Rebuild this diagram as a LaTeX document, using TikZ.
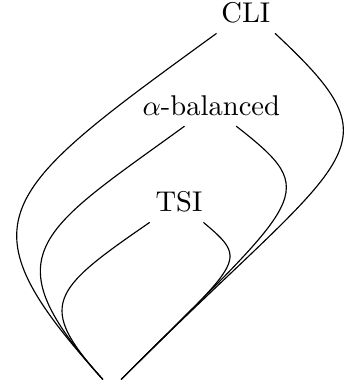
\documentclass[tikz,border=0pt]{standalone}
\begin{document}
\begin{tikzpicture}[x=0.35pt,y=0.35pt,
  lbl/.style={inner sep=3.333pt},
  link/.style={line width=0.4pt}]
\useasboundingbox (0,0) rectangle (351,385);
\node[lbl] (CLI) at (245.8,372.1) {CLI};
\node[lbl] (alpha) at (211.3,279) {$\alpha$-balanced};
\node[lbl] (TSI) at (179,183.1) {TSI};
\node[lbl] (bot) at (112,-4.6) {};
\draw[link] (CLI.215) .. controls +(216:275) and +(132:215) .. (bot.132);
\draw[link] (CLI.-35) .. controls +(-43:175) and +(45:325) .. (bot.48);
\draw[link] (alpha.217) .. controls +(216:180) and +(132:170) .. (bot.132);
\draw[link] (alpha.-39) .. controls +(-38:110) and +(45:260) .. (bot.48);
\draw[link] (TSI.215) .. controls +(214.5:120) and +(132:100) .. (bot.132);
\draw[link] (TSI.-40) .. controls +(-40:62) and +(45:170) .. (bot.48);
\end{tikzpicture}
\end{document}
